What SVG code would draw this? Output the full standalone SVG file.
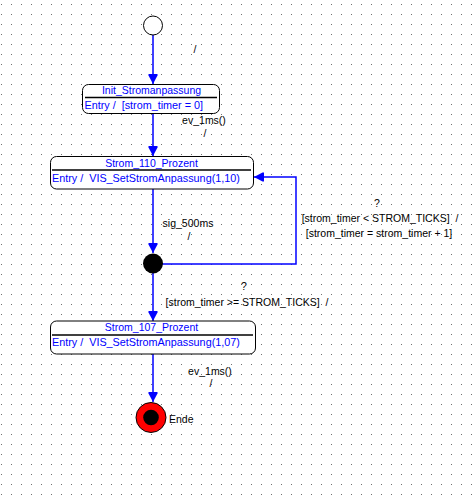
<svg xmlns="http://www.w3.org/2000/svg" width="472" height="496" viewBox="0 0 472 496">
  <style>
    text { font-family: "Liberation Sans", Arial, sans-serif; font-size: 10.5px; white-space: pre; }
    .lbl { fill: #000000; }
    .st { fill: #0000ff; }
    .en { font-size: 10.8px; }
    .box { fill: #ffffff; stroke: #000000; stroke-width: 1; }
    .div { stroke: #000000; stroke-width: 1.3; }
    .edge { fill: none; stroke: #0000ff; stroke-width: 1.5; }
  </style>
  <defs>
    <pattern id="grid" x="0" y="0" width="10" height="10" patternUnits="userSpaceOnUse">
      <rect x="1" y="4" width="1" height="1" fill="#707070"/>
    </pattern>
    <marker id="arr" viewBox="0 0 10 10" refX="10" refY="5" markerWidth="10" markerHeight="10" markerUnits="userSpaceOnUse" orient="auto">
      <path d="M0,0.5 L1.5,0.5 L10,5 L1.5,9.5 L0,9.5 z" fill="#0000ff"/>
    </marker>
  </defs>
  <rect width="472" height="496" fill="#ffffff"/>
  <rect width="472" height="496" fill="url(#grid)"/>

  <g id="connectors">
    <line class="edge" x1="153" y1="35" x2="153" y2="84" marker-end="url(#arr)"/>
    <line class="edge" x1="153" y1="113" x2="153" y2="156" marker-end="url(#arr)"/>
    <line class="edge" x1="153" y1="189" x2="153" y2="253" marker-end="url(#arr)"/>
    <polyline class="edge" points="162,264 296,264 296,177 254,177" marker-end="url(#arr)"/>
    <line class="edge" x1="153" y1="273" x2="153" y2="321" marker-end="url(#arr)"/>
    <line class="edge" x1="153" y1="354" x2="153" y2="402" marker-end="url(#arr)"/>
    <text class="lbl" x="195" y="53" text-anchor="middle">/</text>
    <text class="lbl" x="204" y="124" text-anchor="middle">ev_1ms()</text>
    <text class="lbl" x="205" y="137" text-anchor="middle">/</text>
    <text class="lbl" x="188" y="227" text-anchor="middle">sig_500ms</text>
    <text class="lbl" x="189" y="240" text-anchor="middle">/</text>
    <text class="lbl" x="377" y="207" text-anchor="middle">?</text>
    <text class="lbl" x="380" y="222" text-anchor="middle">[strom_timer &lt; STROM_TICKS]  /</text>
    <text class="lbl" x="379" y="237" text-anchor="middle">[strom_timer = strom_timer + 1]</text>
    <text class="lbl" x="244" y="290" text-anchor="middle">?</text>
    <text class="lbl" x="247" y="306" text-anchor="middle">[strom_timer &gt;= STROM_TICKS]  /</text>
    <text class="lbl" x="210" y="375" text-anchor="middle">ev_1ms()</text>
    <text class="lbl" x="211" y="387" text-anchor="middle">/</text>
  </g>

  <g id="initial">
    <circle cx="153" cy="25.5" r="9.5" fill="#ffffff" stroke="#000000" stroke-width="1"/>
  </g>

  <g id="Init_Stromanpassung">
    <rect class="box" x="82.5" y="84.5" width="137" height="29" rx="6" ry="6"/>
    <line class="div" x1="85" y1="97.5" x2="217" y2="97.5"/>
    <text class="st" x="151.5" y="94" text-anchor="middle">Init_Stromanpassung</text>
    <text class="st en" x="84.5" y="108.5">Entry /  [strom_timer = 0]</text>
  </g>

  <g id="Strom_110_Prozent">
    <rect class="box" x="50.5" y="156.5" width="203" height="32.5" rx="6" ry="6"/>
    <line class="div" x1="52" y1="170" x2="251" y2="170"/>
    <text class="st" x="151.5" y="167" text-anchor="middle">Strom_110_Prozent</text>
    <text class="st en" x="52" y="182">Entry /  VIS_SetStromAnpassung(1,10)</text>
  </g>

  <g id="junction">
    <circle cx="153" cy="263.5" r="10" fill="#000000"/>
  </g>

  <g id="Strom_107_Prozent">
    <rect class="box" x="50.5" y="321" width="205" height="33" rx="6" ry="6"/>
    <line class="div" x1="52" y1="335" x2="253" y2="335"/>
    <text class="st" x="151.5" y="331" text-anchor="middle">Strom_107_Prozent</text>
    <text class="st en" x="52" y="346">Entry /  VIS_SetStromAnpassung(1,07)</text>
  </g>

  <g id="Ende">
    <circle cx="151" cy="417.5" r="15" fill="#ff0000" stroke="#000000" stroke-width="1"/>
    <circle cx="151" cy="417.5" r="7.8" fill="#000000"/>
    <text class="lbl" x="169" y="422.5">Ende</text>
  </g>
</svg>
